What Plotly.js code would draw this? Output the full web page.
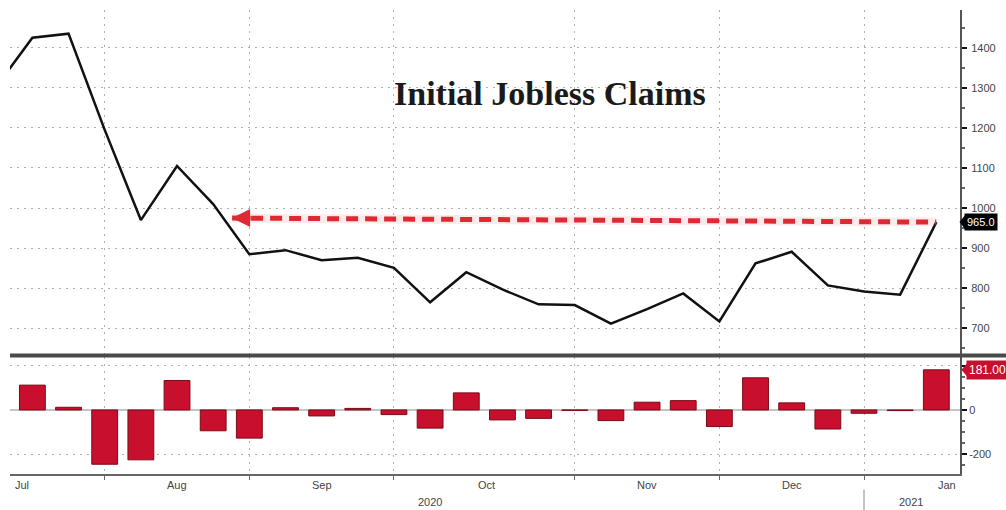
<!DOCTYPE html>
<html>
<head>
<meta charset="utf-8">
<script src="https://cdn.plot.ly/plotly-3.0.1.min.js"></script>
<style>
  html, body { margin: 0; padding: 0; background: #fff; }
  #chart { width: 1006px; height: 510px; }
</style>
</head>
<body>
<div id="chart"></div>
<script>
// Week-ending dates (Saturdays)
const weekDates = [
  '2020-07-11','2020-07-18','2020-07-25','2020-08-01','2020-08-08','2020-08-15','2020-08-22',
  '2020-08-29','2020-09-05','2020-09-12','2020-09-19','2020-09-26','2020-10-03','2020-10-10',
  '2020-10-17','2020-10-24','2020-10-31','2020-11-07','2020-11-14','2020-11-21','2020-11-28',
  '2020-12-05','2020-12-12','2020-12-19','2020-12-26','2021-01-02','2021-01-09'
];
// Initial jobless claims (thousands)
const claims = [
  1302, 1425, 1435, 1195, 970, 1105, 1010,
  885, 895, 870, 876, 851, 765, 840,
  797, 760, 758, 712, 748, 787, 717,
  862, 891, 807, 792, 784, 965
];
// Week-over-week change (thousands)
const change = [
  null, 112, 12, -245, -225, 133, -94,
  -127, 10, -27, 7, -21, -82, 77,
  -45, -38, -2, -48, 35, 42, -75,
  145, 32, -86, -15, -3, 181
];
// Axis tick / gridline dates and month labels
const gridDates = ['2020-08-01','2020-08-29','2020-09-26','2020-10-31','2020-11-28','2020-12-26'];
const monthLabels = ['Jul','Aug','Sep','Oct','Nov','Dec','Jan'];
const monthLabelDates = ['2020-07-16','2020-08-15','2020-09-12','2020-10-14','2020-11-14','2020-12-12','2021-01-11'];
const yearLabels = ['2020','2021'];
const yearLabelDates = ['2020-10-03','2021-01-04'];
const yearSplitDate = '2020-12-26';
const xRange = ['2020-07-13 16:00','2021-01-13 14:00'];
const arrowStartDate = '2020-08-25 16:00';
const titleText = 'Initial Jobless Claims';

const lastIdx = claims.length - 1;
const lastVal = claims[lastIdx];
const lastChg = change[lastIdx];
const DAY = 86400000;

const tickFont = {family: 'Liberation Sans, Arial, sans-serif', size: 11, color: '#444'};

const traces = [
  {
    type: 'scatter', mode: 'lines', x: weekDates, y: claims,
    xaxis: 'x', yaxis: 'y',
    line: {color: '#111', width: 2.5},
    hoverinfo: 'skip', showlegend: false
  },
  {
    type: 'bar', x: weekDates, y: change,
    xaxis: 'x2', yaxis: 'y2',
    width: 5 * DAY,
    marker: {color: '#c8102e', line: {color: '#7a0a16', width: 1}},
    hoverinfo: 'skip', showlegend: false
  }
];

const gridStyle = {showgrid: true, gridcolor: '#b0b0b0', griddash: '2px,5px', gridwidth: 1};

const annotations = [];
monthLabels.forEach((m, i) => annotations.push({
  xref: 'x2', yref: 'paper', x: monthLabelDates[i], y: -0.024,
  text: m, showarrow: false, font: tickFont, yanchor: 'middle'
}));
yearLabels.forEach((m, i) => annotations.push({
  xref: 'x2', yref: 'paper', x: yearLabelDates[i], y: -0.06,
  text: m, showarrow: false, font: tickFont, yanchor: 'middle'
}));
// Title
annotations.push({
  xref: 'paper', yref: 'paper', x: 0.568, y: 0.821, text: titleText, showarrow: false,
  font: {family: 'Liberation Serif, Times New Roman, serif', size: 34, color: '#1a1a1a', weight: 700},
  xanchor: 'center', yanchor: 'middle'
});
// Arrowhead of the red dashed arrow
annotations.push({
  xref: 'x', yref: 'y', x: arrowStartDate, y: lastVal + 10, ax: 20, ay: 0,
  axref: 'pixel', ayref: 'pixel',
  text: '', showarrow: true, arrowhead: 2, arrowsize: 0.8, arrowwidth: 4.5, arrowcolor: '#dd2a33'
});
// Last value labels
annotations.push({
  xref: 'paper', yref: 'y', x: 1, y: lastVal, xanchor: 'left', yanchor: 'middle', xshift: 4,
  text: lastVal.toFixed(1), showarrow: false, bgcolor: '#000', borderpad: 2,
  font: {family: 'Liberation Sans, Arial, sans-serif', size: 11, color: '#fff'}
});
annotations.push({
  xref: 'paper', yref: 'y2', x: 1, y: lastChg, xanchor: 'left', yanchor: 'middle', xshift: 6,
  text: lastChg.toFixed(2), showarrow: false, bgcolor: '#c8102e', borderpad: 2,
  font: {family: 'Liberation Sans, Arial, sans-serif', size: 12, color: '#fff'}
});

const shapes = [
  // soft glow behind dashed arrow
  {type: 'line', xref: 'x', yref: 'y', x0: arrowStartDate, y0: lastVal + 10, x1: weekDates[lastIdx], y1: lastVal,
   line: {color: 'rgba(230,60,70,0.10)', width: 9}},
  {type: 'line', xref: 'x', yref: 'y', x0: arrowStartDate, y0: lastVal + 10, x1: weekDates[lastIdx], y1: lastVal,
   line: {color: '#dd2a33', width: 5, dash: '12px,7px'}},
  // panel divider
  {type: 'line', xref: 'paper', yref: 'paper', x0: 0, x1: 1.05, y0: 0.2554, y1: 0.2554,
   line: {color: '#4a4a4a', width: 4}},
  // year separator
  {type: 'line', xref: 'x2', yref: 'paper', x0: yearSplitDate, x1: yearSplitDate, y0: -0.034, y1: -0.08,
   line: {color: '#888', width: 1}},
  // pointers of value labels
  {type: 'path', xref: 'paper', yref: 'y', path: 'M 0.9995 ' + lastVal + ' L 1.0055 ' + (lastVal + 18) + ' L 1.0055 ' + (lastVal - 18) + ' Z',
   fillcolor: '#000', line: {width: 0}},
  {type: 'path', xref: 'paper', yref: 'y2', path: 'M 1.0015 ' + lastChg + ' L 1.0075 ' + (lastChg + 30) + ' L 1.0075 ' + (lastChg - 30) + ' Z',
   fillcolor: '#c8102e', line: {width: 0}}
];

const layout = {
  width: 1006, height: 510,
  margin: {l: 10, r: 46, t: 10, b: 36},
  paper_bgcolor: '#fff', plot_bgcolor: '#fff',
  showlegend: false,
  xaxis: Object.assign({
    type: 'date', range: xRange, domain: [0, 1], anchor: 'y',
    tickmode: 'array', tickvals: gridDates, showticklabels: false,
    ticks: '', showline: false, zeroline: false, fixedrange: true
  }, gridStyle),
  yaxis: Object.assign({
    domain: [0.2586, 1], range: [636, 1494], side: 'right', anchor: 'x',
    tick0: 0, dtick: 100, ticks: 'outside', ticklen: 5, tickwidth: 2, tickcolor: '#111',
    minor: {dtick: 50, ticks: 'outside', ticklen: 3, tickcolor: '#666', showgrid: false},
    showline: true, linecolor: '#555', linewidth: 2, zeroline: false,
    tickfont: tickFont, ticklabelstandoff: 2
  }, gridStyle),
  xaxis2: Object.assign({
    type: 'date', range: xRange, domain: [0, 1], anchor: 'y2',
    tickmode: 'array', tickvals: gridDates, showticklabels: false,
    ticks: 'outside', ticklen: 4, tickwidth: 1, tickcolor: '#666',
    showline: true, linecolor: '#666', linewidth: 2, zeroline: false
  }, gridStyle),
  yaxis2: Object.assign({
    domain: [0, 0.2522], range: [-289, 239], side: 'right', anchor: 'x2',
    tickmode: 'array', tickvals: [-200, 0, 200], ticktext: ['-200', '0', ''],
    ticks: 'outside', ticklen: 5, tickwidth: 2, tickcolor: '#111',
    minor: {dtick: 50, ticks: 'outside', ticklen: 3, tickcolor: '#666', showgrid: false},
    showline: true, linecolor: '#555', linewidth: 2,
    zeroline: true, zerolinecolor: '#c4c4c4', zerolinewidth: 1.5,
    tickfont: tickFont
  }, gridStyle),
  annotations: annotations,
  shapes: shapes
};

Plotly.newPlot('chart', traces, layout, {staticPlot: true, displayModeBar: false});
</script>
</body>
</html>
